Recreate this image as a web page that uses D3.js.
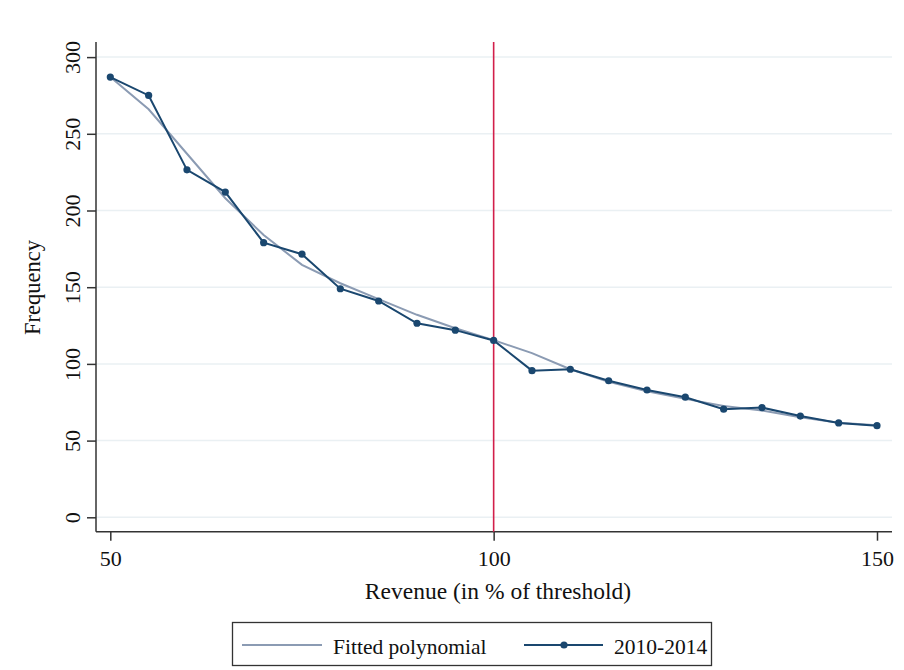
<!DOCTYPE html>
<html>
<head>
<meta charset="utf-8">
<script src="https://cdn.jsdelivr.net/npm/d3@7"></script>
<style>
  body { margin: 0; background: #fff; }
  svg { display: block; font-family: "Liberation Serif", "Times New Roman", serif; }
</style>
</head>
<body>
<svg id="chart"></svg>
<script>
// data
const revenue = [50, 55, 60, 65, 70, 75, 80, 85, 90, 95, 100, 105, 110, 115, 120, 125, 130, 135, 140, 145, 150];
const observed = [287, 275, 226.5, 212, 179, 171.5, 149, 141, 126.5, 122, 115.3, 95.6, 96.5, 89, 83, 78.3, 70.5, 71.5, 66, 61.5, 59.7];
const fitted = [287, 266, 237, 208, 184, 164.6, 152.6, 142.2, 132, 123.2, 115.5, 107, 96.5, 88.4, 82.2, 77.2, 72.6, 69.6, 65.2, 61.7, 60];
const xTicks = [50, 100, 150];
const yTicks = [0, 50, 100, 150, 200, 250, 300];
const threshold = 100;

const width = 904, height = 670;
const svg = d3.select("#chart").attr("width", width).attr("height", height);

// plot region
const axisX = 96, axisY = 531.7, plotTop = 42, plotRight = 892;
const x = d3.scaleLinear().domain([50, 150]).range([110.3, 877]);
const y = d3.scaleLinear().domain([0, 300]).range([517.3, 57.1]);

const navy = "#1a476f";
const fitCol = "#8b9bb3";

// gridlines
svg.append("g").selectAll("line").data(yTicks).join("line")
  .attr("x1", axisX).attr("x2", plotRight)
  .attr("y1", d => y(d)).attr("y2", d => y(d))
  .attr("stroke", "#eaf0f3").attr("stroke-width", 1.5);

// y axis
const yAxis = svg.append("g").attr("transform", `translate(${axisX},0)`)
  .call(d3.axisLeft(y).tickValues(yTicks).tickSize(9));
yAxis.select(".domain").attr("d", `M0,${plotTop}V${axisY}`).attr("stroke", "#333").attr("stroke-width", 1.5);
yAxis.selectAll(".tick line").attr("stroke", "#333").attr("stroke-width", 1.5);
yAxis.selectAll(".tick text")
  .attr("transform", "translate(-16,0) rotate(-90)")
  .attr("x", 0).attr("y", 0).attr("dy", 0)
  .attr("text-anchor", "middle")
  .attr("font-size", 22).attr("font-family", "Liberation Serif").attr("fill", "#111");

// x axis
const xAxis = svg.append("g").attr("transform", `translate(0,${axisY})`)
  .call(d3.axisBottom(x).tickValues(xTicks).tickSize(9).tickPadding(10));
xAxis.select(".domain").attr("d", `M${axisX},0H${plotRight}`).attr("stroke", "#333").attr("stroke-width", 1.5);
xAxis.selectAll(".tick line").attr("stroke", "#333").attr("stroke-width", 1.5);
xAxis.selectAll(".tick text").attr("font-size", 22).attr("font-family", "Liberation Serif").attr("fill", "#111");

// threshold line
svg.append("line")
  .attr("x1", x(threshold)).attr("x2", x(threshold))
  .attr("y1", plotTop).attr("y2", axisY)
  .attr("stroke", "#d21f4b").attr("stroke-width", 1.6);

const line = d3.line().x((d, i) => x(revenue[i])).y(d => y(d));

// fitted polynomial
svg.append("path").datum(fitted)
  .attr("d", line).attr("fill", "none")
  .attr("stroke", fitCol).attr("stroke-width", 2);

// observed
svg.append("path").datum(observed)
  .attr("d", line).attr("fill", "none")
  .attr("stroke", navy).attr("stroke-width", 2);
svg.append("g").selectAll("circle").data(observed).join("circle")
  .attr("cx", (d, i) => x(revenue[i])).attr("cy", d => y(d))
  .attr("r", 3.6).attr("fill", navy);

// axis titles
svg.append("text")
  .attr("transform", "translate(40,287.5) rotate(-90)")
  .attr("text-anchor", "middle").attr("font-size", 22.5).attr("fill", "#111")
  .text("Frequency");
svg.append("text")
  .attr("x", 498).attr("y", 599)
  .attr("text-anchor", "middle").attr("font-size", 23.5).attr("fill", "#111")
  .text("Revenue (in % of threshold)");

// legend
const lg = svg.append("g");
lg.append("rect").attr("x", 232.5).attr("y", 622.5).attr("width", 479).attr("height", 43)
  .attr("fill", "#fff").attr("stroke", "#333").attr("stroke-width", 1.3);
lg.append("line").attr("x1", 242).attr("x2", 322).attr("y1", 645).attr("y2", 645)
  .attr("stroke", fitCol).attr("stroke-width", 2);
lg.append("text").attr("x", 333).attr("y", 654).attr("font-size", 21.5).attr("fill", "#111")
  .text("Fitted polynomial");
lg.append("line").attr("x1", 524).attr("x2", 603).attr("y1", 645).attr("y2", 645)
  .attr("stroke", navy).attr("stroke-width", 2);
lg.append("circle").attr("cx", 564).attr("cy", 645).attr("r", 3.6).attr("fill", navy);
lg.append("text").attr("x", 614).attr("y", 654).attr("font-size", 21.5).attr("fill", "#111")
  .text("2010-2014");
</script>
</body>
</html>
